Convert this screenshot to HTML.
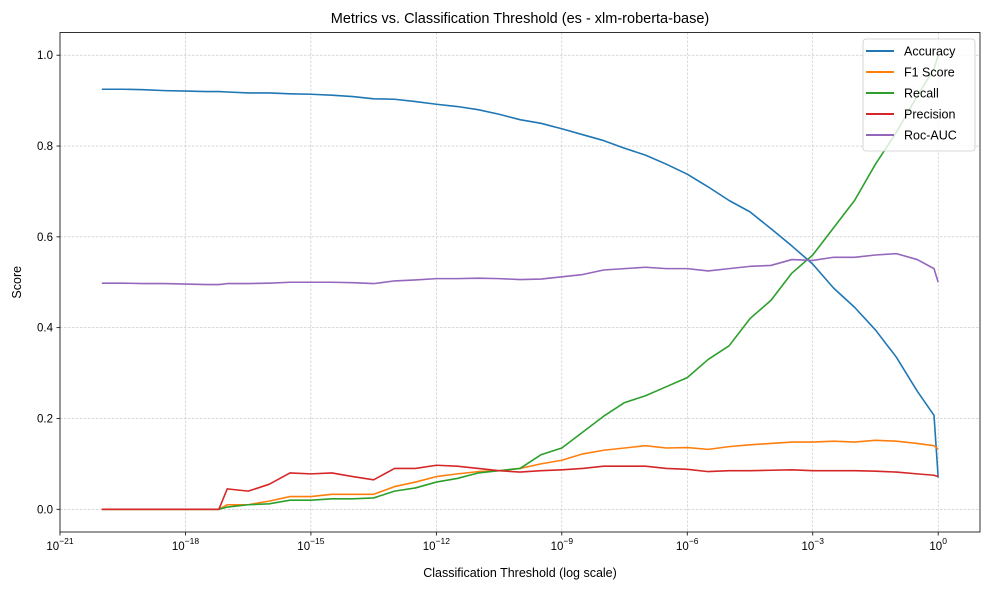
<!DOCTYPE html>
<html><head><meta charset="utf-8"><style>
body{margin:0;background:#fff}
svg{display:block;font-family:"Liberation Sans","DejaVu Sans",sans-serif}
</style></head><body>
<svg id="chart" width="990" height="590" viewBox="0 0 990 590"></svg>
<script>
const exps = [-20,-19.5,-19,-18.5,-18,-17.5,-17.2,-17,-16.5,-16,-15.5,-15,-14.5,-14,-13.5,-13,-12.5,-12,-11.5,-11,-10.5,-10,-9.5,-9,-8.5,-8,-7.5,-7,-6.5,-6,-5.5,-5,-4.5,-4,-3.5,-3,-2.5,-2,-1.5,-1,-0.5,-0.1,0];
const accuracy = [.925,.925,.924,.922,.921,.92,.92,.919,.917,.917,.915,.914,.912,.909,.904,.903,.898,.892,.887,.88,.87,.858,.85,.838,.825,.812,.795,.78,.76,.738,.71,.68,.655,.618,.58,.54,.487,.445,.395,.335,.26,.207,.07];
const f1 = [0,0,0,0,0,0,0,.01,.01,.018,.028,.028,.033,.033,.033,.05,.06,.072,.078,.083,.085,.09,.1,.108,.122,.13,.135,.14,.135,.136,.132,.138,.142,.145,.148,.148,.15,.148,.152,.15,.145,.14,.133];
const recall = [0,0,0,0,0,0,0,.005,.01,.012,.02,.02,.023,.023,.025,.04,.047,.06,.068,.08,.085,.09,.12,.135,.17,.205,.235,.25,.27,.29,.33,.36,.42,.46,.52,.56,.62,.68,.76,.83,.91,.97,1.0];
const precision = [0,0,0,0,0,0,0,.045,.04,.055,.08,.078,.08,.072,.065,.09,.09,.097,.095,.09,.085,.082,.085,.087,.09,.095,.095,.095,.09,.088,.083,.085,.085,.086,.087,.085,.085,.085,.084,.082,.078,.075,.072];
const rocauc = [.498,.498,.497,.497,.496,.495,.495,.497,.497,.498,.5,.5,.5,.499,.497,.503,.505,.508,.508,.509,.508,.506,.507,.512,.517,.527,.53,.533,.53,.53,.525,.53,.535,.537,.55,.548,.555,.555,.56,.563,.55,.53,.5];
const seriesNames = ["Accuracy","F1 Score","Recall","Precision","Roc-AUC"];
const seriesData = [accuracy,f1,recall,precision,rocauc];
const xTickExps = [-21,-18,-15,-12,-9,-6,-3,0];
const yTicks = [0.0,0.2,0.4,0.6,0.8,1.0];

const colors = ["#1f77b4","#ff7f0e","#2ca02c","#d62728","#9467bd"];
const L=60,R=980,T=32.5,B=532;
const xmin=-21,xmax=1,ymin=-0.05,ymax=1.05;
const xs=e=>L+(e-xmin)/(xmax-xmin)*(R-L);
const ys=v=>B-(v-ymin)/(ymax-ymin)*(B-T);
const svg=document.getElementById('chart');
const NS="http://www.w3.org/2000/svg";
function mk(tag,attrs,text){const el=document.createElementNS(NS,tag);for(const k in attrs)el.setAttribute(k,attrs[k]);if(text!==undefined)el.textContent=text;svg.appendChild(el);return el;}

xTickExps.forEach(e=>{
  const x=xs(e);
  const g=mk('line',{x1:x,x2:x,y1:T,y2:B,stroke:'#c0c0c0','stroke-width':0.6,'stroke-dasharray':'2.5,1.5'});
  
  
  mk('line',{x1:x,x2:x,y1:B,y2:B+3.5,stroke:'#000','stroke-width':0.8});
  const t=mk('text',{x:x,y:B+18,'font-size':11.5,'text-anchor':'middle'});
  
  
  t.textContent='10';
  const s=document.createElementNS(NS,'tspan');s.setAttribute('dy',-6);s.setAttribute('font-size',8.5);
  s.textContent = e===0 ? '0' : '\u2212'+(-e);
  t.appendChild(s);
});
yTicks.forEach(v=>{
  const y=ys(v);
  const g=mk('line',{x1:L,x2:R,y1:y,y2:y,stroke:'#c0c0c0','stroke-width':0.6,'stroke-dasharray':'2.5,1.5'});
  
  
  mk('line',{x1:L-3.5,x2:L,y1:y,y2:y,stroke:'#000','stroke-width':0.8});
  const t=mk('text',{x:L-7,y:y+4,'font-size':11.5,'text-anchor':'end'},v.toFixed(1));
  
  
});

seriesData.forEach((arr,i)=>{
  const d=arr.map((v,j)=>(j?'L':'M')+xs(exps[j]).toFixed(2)+','+ys(v).toFixed(2)).join(' ');
  const p=mk('path',{d:d,fill:'none',stroke:colors[i],'stroke-width':1.6,'stroke-linejoin':'round'});
  
  
});

const fr=mk('rect',{x:L,y:T,width:R-L,height:B-T,fill:'none',stroke:'#000','stroke-width':0.8});



const ti=mk('text',{x:(L+R)/2,y:23,'font-size':14.5,'text-anchor':'middle'},'Metrics vs. Classification Threshold (es - xlm-roberta-base)');


const xt=mk('text',{x:(L+R)/2,y:577,'font-size':12.5,'text-anchor':'middle'},'Classification Threshold (log scale)');


const yt=mk('text',{x:21,y:(T+B)/2,'font-size':12.5,'text-anchor':'middle',transform:'rotate(-90 21 '+((T+B)/2)+')'},'Score');



const lg=mk('rect',{x:863,y:39,width:112,height:112,rx:3,fill:'#fff','fill-opacity':0.8,stroke:'#ccc','stroke-width':0.8});


seriesNames.forEach((n,i)=>{
  const y=51+i*21;
  const ln=mk('line',{x1:866,x2:894,y1:y,y2:y,stroke:colors[i],'stroke-width':2});
  
  
  const t=mk('text',{x:904,y:y+4.5,'font-size':12.5},n);
  
  
});
</script>
</body></html>
